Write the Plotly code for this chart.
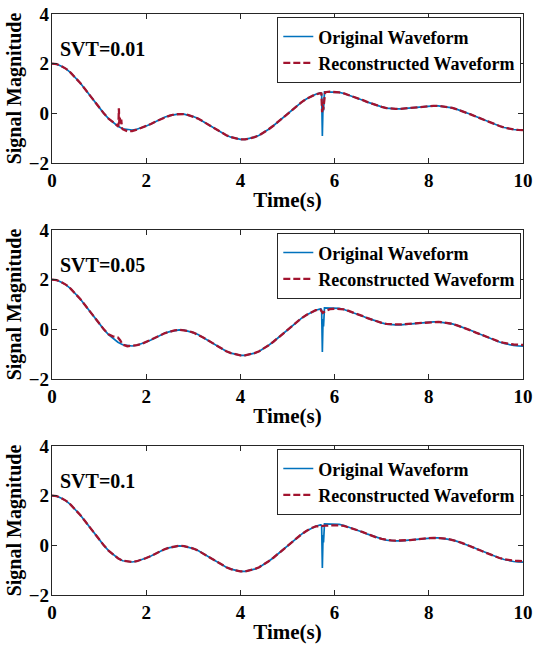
import plotly.graph_objects as go

# ---------------- data ----------------
TIME = [0.0, 0.1, 0.2, 0.3, 0.4, 0.5, 0.6, 0.7, 0.8, 0.9,
        1.0, 1.1, 1.2, 1.3, 1.4, 1.5, 1.6, 1.7, 1.8, 1.9,
        2.0, 2.1, 2.2, 2.3, 2.4, 2.5, 2.6, 2.7, 2.8, 2.9,
        3.0, 3.1, 3.2, 3.3, 3.4, 3.5, 3.6, 3.7, 3.8, 3.9,
        4.0, 4.1, 4.2, 4.3, 4.4, 4.5, 4.6, 4.7, 4.8, 4.9,
        5.0, 5.1, 5.2, 5.3, 5.4, 5.5, 5.6, 5.7, 5.8, 5.9,
        6.0, 6.1, 6.2, 6.3, 6.4, 6.5, 6.6, 6.7, 6.8, 6.9,
        7.0, 7.1, 7.2, 7.3, 7.4, 7.5, 7.6, 7.7, 7.8, 7.9,
        8.0, 8.1, 8.2, 8.3, 8.4, 8.5, 8.6, 8.7, 8.8, 8.9,
        9.0, 9.1, 9.2, 9.3, 9.4, 9.5, 9.6, 9.7, 9.8, 9.9,
        10.0]

ORIGINAL = [2.00, 1.98, 1.90, 1.79, 1.63, 1.44, 1.22, 0.98, 0.73, 0.48,
            0.23, 0.00, -0.21, -0.38, -0.52, -0.62, -0.66, -0.67, -0.64, -0.59,
            -0.51, -0.43, -0.33, -0.24, -0.15, -0.09, -0.04, -0.02, -0.03, -0.07,
            -0.13, -0.21, -0.32, -0.43, -0.55, -0.67, -0.79, -0.88, -0.96, -1.02,
            -1.05, -1.05, -1.02, -0.96, -0.88, -0.77, -0.64, -0.50, -0.34, -0.18,
            -0.01, 0.15, 0.31, 0.45, 0.58, 0.69, 0.77, 0.82, 0.86, 0.87,
            0.86, 0.84, 0.80, 0.74, 0.68, 0.60, 0.53, 0.45, 0.38, 0.31,
            0.26, 0.21, 0.19, 0.18, 0.18, 0.20, 0.21, 0.23, 0.26, 0.28,
            0.29, 0.30, 0.30, 0.28, 0.26, 0.22, 0.16, 0.10, 0.03, -0.05,
            -0.13, -0.21, -0.29, -0.37, -0.45, -0.51, -0.57, -0.62, -0.65, -0.67,
            -0.68]
ORIGINAL_DIP_T = [5.71, 5.725, 5.74, 5.755, 5.765, 5.785]
ORIGINAL_DIP_V = [0.82, 0.78, -0.91, 0.42, 0.12, 0.86]

REC_001 = [2.00, 1.98, 1.90, 1.79, 1.63, 1.44, 1.22, 0.98, 0.73, 0.48,
           0.23, 0.00, -0.21, -0.38, -0.52, -0.64, -0.72, -0.72, -0.66, -0.59,
           -0.51, -0.43, -0.33, -0.24, -0.15, -0.09, -0.04, -0.02, -0.03, -0.07,
           -0.13, -0.21, -0.32, -0.43, -0.55, -0.67, -0.79, -0.88, -0.96, -1.02,
           -1.05, -1.05, -1.02, -0.96, -0.88, -0.77, -0.64, -0.50, -0.34, -0.18,
           -0.01, 0.15, 0.31, 0.45, 0.58, 0.69, 0.77, 0.81, 0.85, 0.87,
           0.86, 0.84, 0.80, 0.74, 0.68, 0.60, 0.53, 0.45, 0.38, 0.31,
           0.26, 0.21, 0.19, 0.18, 0.18, 0.20, 0.21, 0.23, 0.26, 0.28,
           0.29, 0.30, 0.30, 0.28, 0.26, 0.22, 0.16, 0.10, 0.03, -0.05,
           -0.13, -0.21, -0.29, -0.37, -0.45, -0.51, -0.57, -0.62, -0.65, -0.67,
           -0.68]
REC_001_EXTRA_T = [1.41, 1.42, 1.43, 1.44, 1.455, 1.47, 1.485,
                   5.72, 5.735, 5.75, 5.76, 5.775, 5.79]
REC_001_EXTRA_V = [-0.53, 0.20, -0.42, -0.18, -0.40, -0.25, -0.58,
                   0.80, 0.05, 0.32, 0.15, 0.55, 0.84]

REC_005 = [2.00, 1.98, 1.90, 1.79, 1.63, 1.44, 1.22, 0.98, 0.73, 0.48,
           0.23, 0.00, -0.20, -0.29, -0.33, -0.62, -0.68, -0.67, -0.64, -0.59,
           -0.51, -0.43, -0.33, -0.24, -0.15, -0.09, -0.04, -0.02, -0.03, -0.07,
           -0.13, -0.21, -0.32, -0.43, -0.55, -0.67, -0.79, -0.88, -0.96, -1.02,
           -1.05, -1.05, -1.02, -0.96, -0.88, -0.77, -0.64, -0.50, -0.34, -0.18,
           -0.01, 0.15, 0.31, 0.45, 0.58, 0.69, 0.77, 0.79, 0.74, 0.81,
           0.83, 0.82, 0.80, 0.74, 0.68, 0.60, 0.53, 0.45, 0.38, 0.31,
           0.26, 0.22, 0.20, 0.20, 0.20, 0.21, 0.22, 0.24, 0.26, 0.28,
           0.29, 0.30, 0.30, 0.28, 0.26, 0.22, 0.16, 0.10, 0.03, -0.05,
           -0.13, -0.21, -0.29, -0.37, -0.44, -0.50, -0.55, -0.59, -0.61, -0.62,
           -0.63]
REC_005_EXTRA_T = [1.35, 1.45, 5.75]
REC_005_EXTRA_V = [-0.30, -0.45, 0.66]

REC_01 = [2.00, 1.98, 1.90, 1.79, 1.63, 1.44, 1.22, 0.98, 0.73, 0.48,
          0.23, 0.00, -0.21, -0.38, -0.52, -0.62, -0.66, -0.67, -0.64, -0.59,
          -0.51, -0.43, -0.33, -0.24, -0.15, -0.09, -0.04, -0.02, -0.03, -0.07,
          -0.13, -0.21, -0.32, -0.43, -0.55, -0.67, -0.79, -0.88, -0.96, -1.02,
          -1.05, -1.05, -1.02, -0.96, -0.88, -0.77, -0.64, -0.50, -0.34, -0.18,
          -0.01, 0.15, 0.31, 0.45, 0.58, 0.69, 0.76, 0.79, 0.79, 0.80,
          0.81, 0.80, 0.78, 0.73, 0.68, 0.60, 0.53, 0.45, 0.38, 0.31,
          0.26, 0.22, 0.20, 0.19, 0.19, 0.20, 0.21, 0.23, 0.26, 0.28,
          0.29, 0.30, 0.30, 0.28, 0.26, 0.22, 0.16, 0.10, 0.03, -0.05,
          -0.13, -0.21, -0.29, -0.37, -0.45, -0.51, -0.56, -0.60, -0.62, -0.63,
          -0.64]
REC_01_EXTRA_T = []
REC_01_EXTRA_V = []

PANEL_LABELS = ["SVT=0.01", "SVT=0.05", "SVT=0.1"]
X_TICKS = [0, 2, 4, 6, 8, 10]
Y_TICKS = [-2, 0, 2, 4]
X_TITLE = "Time(s)"
Y_TITLE = "Signal Magnitude"
NAME_ORIG = "Original Waveform"
NAME_REC = "Reconstructed Waveform"


def merged(t_base, v_base, t_extra, v_extra):
    pairs = sorted(zip(list(t_base) + list(t_extra), list(v_base) + list(v_extra)))
    return [p[0] for p in pairs], [p[1] for p in pairs]


# ---------------- styling ----------------
W, H = 535, 645
FONT = "Liberation Serif"
BLUE = "#0072BD"
RED = "#A2142F"
AXC = "#262626"

X_DOMAIN = [52 / W, 523 / W]
PANEL_PX = [(14, 163), (230, 379), (446, 595)]   # (top, bottom) in pixels
LEGEND_TOP_PX = [17, 233, 449]

orig_t, orig_v = merged(TIME, ORIGINAL, ORIGINAL_DIP_T, ORIGINAL_DIP_V)
recs = [merged(TIME, REC_001, REC_001_EXTRA_T, REC_001_EXTRA_V),
        merged(TIME, REC_005, REC_005_EXTRA_T, REC_005_EXTRA_V),
        merged(TIME, REC_01, REC_01_EXTRA_T, REC_01_EXTRA_V)]

fig = go.Figure()
layout = dict(width=W, height=H, margin=dict(l=0, r=0, t=0, b=0, autoexpand=False),
              paper_bgcolor="white", plot_bgcolor="white",
              font=dict(family=FONT, color="black"),
              annotations=[], showlegend=True)

for i in range(3):
    sfx = "" if i == 0 else str(i + 1)
    xa, ya = "x" + sfx, "y" + sfx
    leg = "legend" + sfx
    fig.add_trace(go.Scatter(x=orig_t, y=orig_v, mode="lines", name=NAME_ORIG,
                             line=dict(color=BLUE, width=1.7),
                             xaxis=xa, yaxis=ya, legend=leg))
    rt, rv = recs[i]
    fig.add_trace(go.Scatter(x=rt, y=rv, mode="lines", name=NAME_REC,
                             line=dict(color=RED, width=2.3, dash="7px,3px"),
                             xaxis=xa, yaxis=ya, legend=leg))
    top, bot = PANEL_PX[i]
    common = dict(showline=True, linecolor=AXC, linewidth=1.3, mirror="ticks",
                  ticks="inside", ticklen=5, tickwidth=1, tickcolor=AXC,
                  showgrid=False, zeroline=False, automargin=False,
                  tickfont=dict(family=FONT, size=19, color="black", weight="bold"))
    layout["xaxis" + sfx] = dict(common, domain=X_DOMAIN, anchor=ya, range=[0, 10],
                                 tickvals=X_TICKS,
                                 title=dict(text=X_TITLE, standoff=2,
                                            font=dict(family=FONT, size=21, weight="bold")))
    layout["yaxis" + sfx] = dict(common, domain=[1 - bot / H, 1 - top / H], anchor=xa,
                                 range=[-2, 4], tickvals=Y_TICKS, ticklabelstandoff=-2,
                                 title=dict(text=Y_TITLE, standoff=1,
                                            font=dict(family=FONT, size=20, weight="bold")))
    layout[leg] = dict(x=521 / W, xanchor="right", y=1 - LEGEND_TOP_PX[i] / H, yanchor="top",
                       bgcolor="white", bordercolor=AXC, borderwidth=1.3,
                       font=dict(family=FONT, size=18, color="black", weight="bold"),
                       itemwidth=30, tracegroupgap=0)
    layout["annotations"].append(dict(text=PANEL_LABELS[i], xref=xa, yref=ya, x=0.13, y=2.6,
                                      xanchor="left", yanchor="middle", showarrow=False,
                                      font=dict(family=FONT, size=20, color="black",
                                                weight="bold")))

fig.update_layout(**layout)
fig.write_html("out.html", config={"displayModeBar": False},
               post_script="document.body.style.margin='0px';"
                           "document.documentElement.style.overflow='hidden';")
